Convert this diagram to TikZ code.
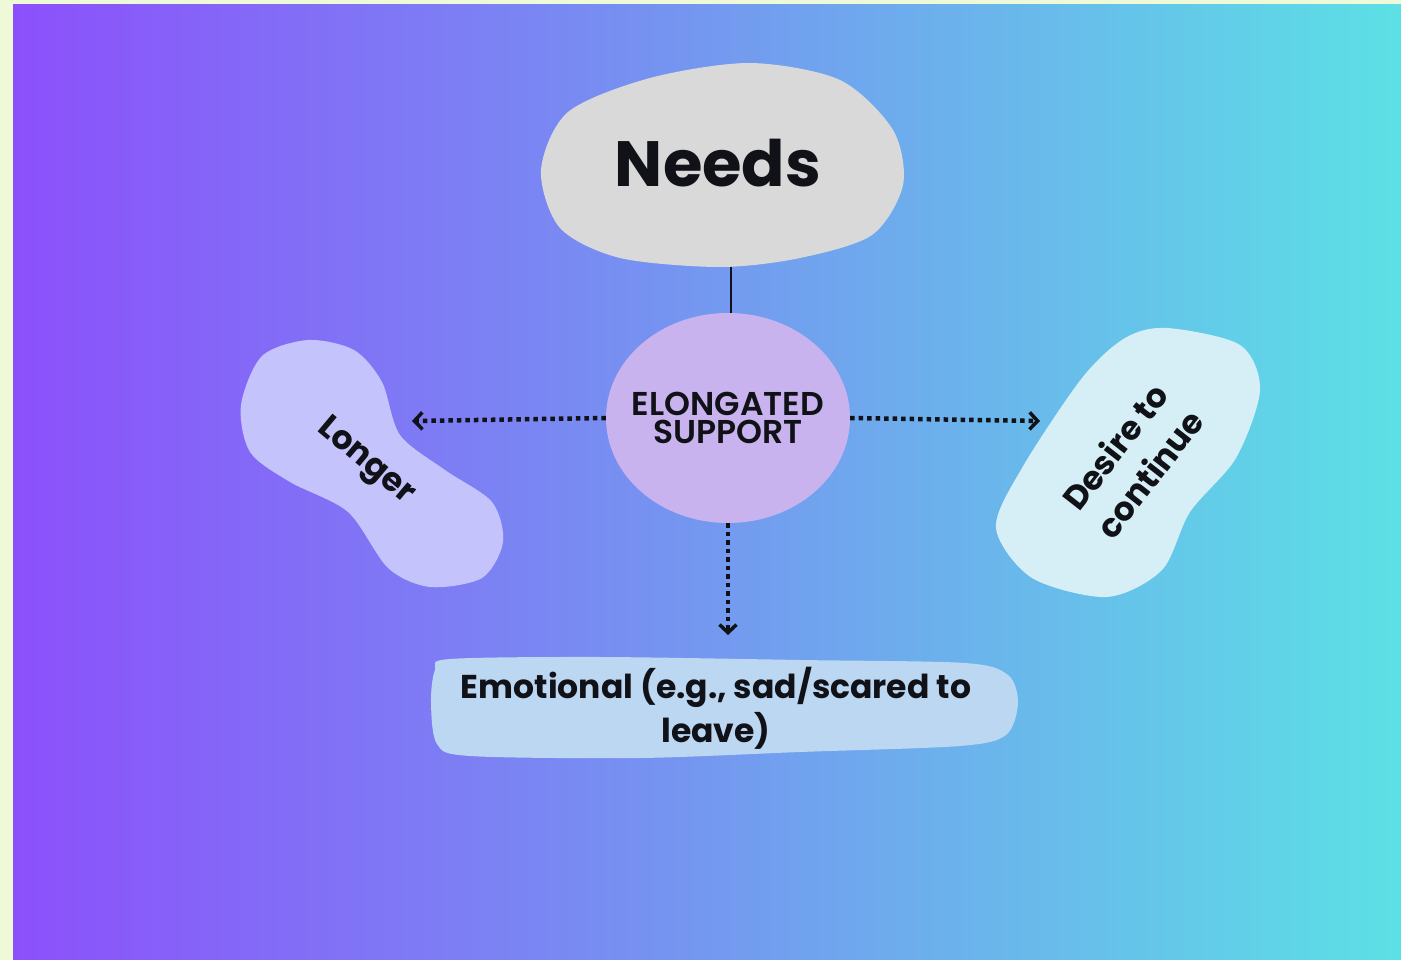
\documentclass[tikz,border=0pt]{standalone}
\usepackage{fontspec}
\setmainfont{Poppins}
\newfontfamily\semifont{Poppins SemiBold}
\usetikzlibrary{shapes.geometric,arrows.meta}
\definecolor{bgleft}{RGB}{140,80,251}
\definecolor{bgmid}{RGB}{121,146,242}
\definecolor{bgright}{RGB}{92,224,229}
\definecolor{framecol}{RGB}{238,249,216}
\definecolor{needsfill}{RGB}{217,217,217}
\definecolor{hubfill}{RGB}{201,179,238}
\definecolor{longfill}{RGB}{197,195,251}
\definecolor{desirefill}{RGB}{214,239,246}
\definecolor{emofill}{RGB}{188,215,242}
\definecolor{ink}{RGB}{17,17,24}
\tikzstyle{title}=[text=ink, font=\bfseries\fontsize{64}{70}\selectfont]
\tikzstyle{hub}=[ellipse, fill=hubfill, minimum width=244pt, minimum height=210pt, inner xsep=-14pt, inner ysep=0pt, align=center, text=ink, font=\semifont\fontsize{33}{28}\selectfont]
\tikzstyle{tag}=[align=center, text=ink, font=\bfseries\fontsize{33}{44}\selectfont]
\tikzstyle{dots}=[line width=4.5pt, dash pattern=on 4.5pt off 4pt, ink, -{Straight Barb[length=8pt,width=17pt,line width=3.5pt]}]

\begin{document}
\begin{tikzpicture}[x=1pt, y=-1pt]
    \useasboundingbox (0,0) rectangle (1401,960);
    \fill[framecol] (0,0) rectangle (1401,960);
    \shade[left color=bgleft, middle color=bgmid, right color=bgright] (13,5) rectangle (1401,960);
    \fill[needsfill] plot[smooth cycle] coordinates {
        (750,63) (840,80) (893,130) (903,185) (872,235) (800,258) (720,267)
        (620,258) (560,228) (541,170) (568,112) (650,78)};
    \fill[longfill] plot[smooth cycle] coordinates {
        (308,340) (354,350) (382,382) (400,435) (445,470) (492,502) (503,542)
        (482,578) (430,587) (388,568) (348,512) (290,482) (250,452) (241,405) (262,356)};
    \fill[desirefill] plot[smooth cycle] coordinates {
        (1167,328) (1240,345) (1260,390) (1236,458) (1190,512) (1162,570)
        (1107,597) (1032,578) (996,528) (1022,468) (1082,378) (1125,338)};
    \fill[emofill] plot[smooth cycle, tension=0.5] coordinates {
        (450,659) (600,657) (800,660) (965,663) (1008,675) (1018,703) (1006,735)
        (960,746) (800,752) (640,758) (470,756) (437,744) (431,702) (435,670)};
    \node[title] (n) at (718,163) {Needs};
    \node[hub] (s) at (728,418) {ELONGATED\\SUPPORT};
    \node[tag, rotate=-40] (l) at (365,462) {Longer};
    \node[tag, rotate=52] (d) at (1132,460) {Desire to\\continue};
    \node[tag] (e) at (716,708) {Emotional (e.g., sad/scared to\\leave)};
    \coordinate (nb) at (731,267);
    \coordinate (la) at (412,421);
    \coordinate (ra) at (1040,421);
    \coordinate (da) at (728,635);
    \draw[line width=2pt, ink] (nb) -- (nb |- s.north);
    \draw[dots] (s.west) -- (la);
    \draw[dots] (s.east) -- (ra);
    \draw[dots] (s.south) -- (da);
\end{tikzpicture}
\end{document}
